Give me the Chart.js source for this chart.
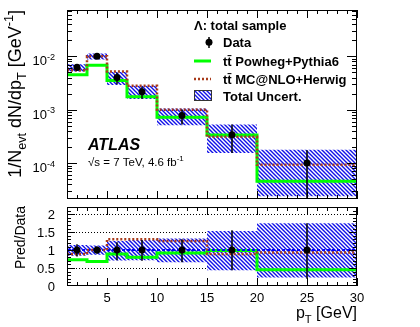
<!DOCTYPE html>
<html>
<head>
<meta charset="utf-8">
<script src="https://cdn.jsdelivr.net/npm/chart.js@4.4.1/dist/chart.umd.min.js"></script>
<style>
  html, body { margin: 0; padding: 0; background: #fff; }
  #wrap { position: relative; width: 420px; height: 327px; overflow: hidden; }
  #top { position: absolute; left: 0; top: 0; }
  #ratio { position: absolute; left: 0; top: 203px; }
</style>
</head>
<body>
<div id="wrap">
  <canvas id="top" width="420" height="203"></canvas>
  <canvas id="ratio" width="420" height="124"></canvas>
</div>
<script>
"use strict";

// bins in pT [GeV]
var binEdges = [1, 3, 5, 7, 10, 15, 20, 30];
var binCenters = [2, 4, 6, 8.5, 12.5, 17.5, 25];

// upper panel: 1/N dN/dpT
var dataVals = [6.2e-3, 1.0e-2, 4.0e-3, 2.17e-3, 7.8e-4, 3.4e-4, 1.0e-4];
var dataErrLo = [5.3e-3, 9.0e-3, 3.0e-3, 1.6e-3, 5.3e-4, 1.55e-4, 2.2e-5];
var dataErrHi = [7.1e-3, 1.12e-2, 4.9e-3, 2.7e-3, 1.0e-3, 5.3e-4, 1.75e-4];
var powhegVals = [4.5e-3, 6.8e-3, 3.5e-3, 1.75e-3, 7.2e-4, 3.35e-4, 4.6e-5];
var mcatnloVals = [5.5e-3, 1.0e-2, 5.2e-3, 2.8e-3, 1.0e-3, 3.1e-4, 9.3e-5];
var uncLo = [5.2e-3, 8.7e-3, 2.9e-3, 1.58e-3, 5.1e-4, 1.55e-4, 2.4e-5];
var uncHi = [7.1e-3, 1.13e-2, 5.1e-3, 2.8e-3, 1.05e-3, 5.3e-4, 1.78e-4];

// lower panel: Pred/Data
var dataRatio = [1, 1, 1, 1, 1, 1, 1];
var dataRatioErrLo = [0.82, 0.9, 0.72, 0.7, 0.66, 0.44, 0.2];
var dataRatioErrHi = [1.16, 1.1, 1.22, 1.28, 1.3, 1.55, 1.75];
var powhegRatio = [0.73, 0.68, 0.89, 0.8, 0.92, 0.99, 0.45];
var mcatnloRatio = [0.89, 1.0, 1.3, 1.3, 1.25, 0.89, 0.93];
var uncRatioLo = [0.84, 0.87, 0.71, 0.72, 0.66, 0.44, 0.24];
var uncRatioHi = [1.14, 1.13, 1.25, 1.28, 1.32, 1.53, 1.75];

// tick labels
var xTickValues = [5, 10, 15, 20, 25, 30];
var xTickLabels = ['5', '10', '15', '20', '25', '30'];
var logTickValues = [1e-2, 1e-3, 1e-4];
var logTickExps = ['-2', '-3', '-4'];
var ratioTickValues = [0, 0.5, 1, 1.5, 2];
var ratioTickLabels = ['0', '0.5', '1', '1.5', '2'];

var FONT = '"Liberation Sans", Arial, Helvetica, sans-serif';
var GREEN = '#00ff00';
var RED = '#a83a1a';
var BLUE = '#0000ff';

function stepPoints(values) {
  var pts = values.map(function(v, i) { return { x: binEdges[i], y: v }; });
  pts.push({ x: binEdges[binEdges.length - 1], y: values[values.length - 1] });
  return pts;
}

function centerPoints(values) {
  return values.map(function(v, i) { return { x: binCenters[i], y: v }; });
}

function makeHatch(ctx) {
  var c = document.createElement('canvas');
  c.width = 4; c.height = 4;
  var g = c.getContext('2d');
  g.fillStyle = '#ffffff';
  g.fillRect(0, 0, 4, 4);
  g.strokeStyle = '#1010e8';
  g.lineWidth = 1.4;
  g.beginPath();
  g.moveTo(0, 0); g.lineTo(4, 4);
  g.moveTo(-1, 3); g.lineTo(1, 5);
  g.moveTo(3, -1); g.lineTo(5, 1);
  g.stroke();
  return ctx.createPattern(c, 'repeat');
}

function fontStr(size, weight) {
  return (weight || 'normal') + ' ' + size + 'px ' + FONT;
}

// parts: [{t, sub, sup}]
function richWidth(ctx, parts, size, weight) {
  var w = 0;
  parts.forEach(function(p) {
    ctx.font = fontStr(p.sub || p.sup ? size * 0.7 : size, weight);
    w += ctx.measureText(p.t).width;
  });
  return w;
}

function drawRich(ctx, parts, x, y, size, align, weight) {
  var w = richWidth(ctx, parts, size, weight);
  var cx = align === 'right' ? x - w : (align === 'center' ? x - w / 2 : x);
  ctx.textAlign = 'left';
  ctx.textBaseline = 'alphabetic';
  parts.forEach(function(p) {
    var s = p.sub || p.sup ? size * 0.7 : size;
    var dy = p.sub ? size * 0.3 : (p.sup ? -size * 0.42 : 0);
    ctx.font = fontStr(s, weight);
    ctx.fillText(p.t, cx, y + dy);
    cx += ctx.measureText(p.t).width;
  });
}

var hepAxes = {
  id: 'hepAxes',
  beforeDatasetsDraw: function(chart, args, o) {
    if (!o.gridY) return;
    var ctx = chart.ctx, a = chart.chartArea, ys = chart.scales.y;
    ctx.save();
    ctx.strokeStyle = '#000';
    ctx.lineWidth = 1;
    ctx.setLineDash([1, 2]);
    o.gridY.forEach(function(v) {
      var py = Math.round(ys.getPixelForValue(v)) + 0.5;
      ctx.beginPath();
      ctx.moveTo(a.left, py);
      ctx.lineTo(a.right, py);
      ctx.stroke();
    });
    ctx.restore();
  },
  afterDraw: function(chart, args, o) {
    var ctx = chart.ctx, a = chart.chartArea, xs = chart.scales.x, ys = chart.scales.y;
    ctx.save();
    ctx.strokeStyle = '#000';
    ctx.lineWidth = 1;
    ctx.beginPath();
    function seg(x1, y1, x2, y2) { ctx.moveTo(x1, y1); ctx.lineTo(x2, y2); }
    function xt(v, len) {
      var px = Math.round(xs.getPixelForValue(v)) + 0.5;
      seg(px, a.bottom, px, a.bottom - len);
      seg(px, a.top, px, a.top + len);
    }
    function yt(v, len) {
      var py = Math.round(ys.getPixelForValue(v)) + 0.5;
      if (py < a.top || py > a.bottom) return;
      seg(a.left, py, a.left + len, py);
      seg(a.right, py, a.right - len, py);
    }
    o.xMinor.forEach(function(v) { xt(v, o.xMinorLen); });
    o.xMajor.forEach(function(v) { xt(v, o.xMajorLen); });
    o.yMinor.forEach(function(v) { yt(v, o.yMinorLen); });
    o.yMajor.forEach(function(v) { yt(v, o.yMajorLen); });
    ctx.stroke();
    ctx.strokeRect(a.left + 0.5, a.top + 0.5, a.right - a.left - 1, a.bottom - a.top - 1);

    ctx.fillStyle = '#000';
    if (o.logLabels) {
      o.yMajor.forEach(function(v, i) {
        var py = ys.getPixelForValue(v);
        drawRich(ctx, [{ t: '10' }, { t: logTickExps[i], sup: true }], 55, py + 9, 13, 'right');
      });
    }
    if (o.ratioLabels) {
      ratioTickValues.forEach(function(v, i) {
        var py = ys.getPixelForValue(v);
        drawRich(ctx, [{ t: ratioTickLabels[i] }], 55, py + 4.7, 13, 'right');
      });
    }
    if (o.xLabels) {
      xTickValues.forEach(function(v, i) {
        var px = xs.getPixelForValue(v);
        drawRich(ctx, [{ t: xTickLabels[i] }], px, a.bottom + 16, 13, 'center');
      });
    }
    ctx.restore();
  }
};

var errBars = {
  id: 'errBars',
  afterDatasetsDraw: function(chart, args, o) {
    var ctx = chart.ctx, a = chart.chartArea, xs = chart.scales.x, ys = chart.scales.y;
    ctx.save();
    ctx.beginPath();
    ctx.rect(a.left, a.top, a.right - a.left, a.bottom - a.top);
    ctx.clip();
    ctx.strokeStyle = '#000';
    ctx.lineWidth = 1.5;
    ctx.beginPath();
    binCenters.forEach(function(c, i) {
      var px = xs.getPixelForValue(c);
      ctx.moveTo(px, ys.getPixelForValue(o.lo[i]));
      ctx.lineTo(px, ys.getPixelForValue(o.hi[i]));
    });
    ctx.stroke();
    ctx.restore();
  }
};

var topText = {
  id: 'topText',
  afterDraw: function(chart) {
    var ctx = chart.ctx;
    ctx.save();
    ctx.fillStyle = '#000';
    // legend
    drawRich(ctx, [{ t: '\u039b: total sample' }], 194, 29.5, 13, 'left', 'bold');
    ctx.beginPath();
    ctx.arc(209, 42.3, 3.5, 0, Math.PI * 2);
    ctx.fill();
    ctx.lineWidth = 1.5;
    ctx.strokeStyle = '#000';
    ctx.beginPath(); ctx.moveTo(209, 37); ctx.lineTo(209, 48); ctx.stroke();
    drawRich(ctx, [{ t: 'Data' }], 223, 46.5, 13, 'left', 'bold');

    ctx.strokeStyle = GREEN; ctx.lineWidth = 3;
    ctx.beginPath(); ctx.moveTo(194, 61); ctx.lineTo(211, 61); ctx.stroke();
    drawRich(ctx, [{ t: 'tt\u0304 Powheg+Pythia6' }], 223, 65.5, 13, 'left', 'bold');

    ctx.strokeStyle = RED; ctx.lineWidth = 2.5; ctx.setLineDash([2, 2]);
    ctx.beginPath(); ctx.moveTo(194, 79); ctx.lineTo(211, 79); ctx.stroke();
    ctx.setLineDash([]);
    drawRich(ctx, [{ t: 'tt\u0304 MC@NLO+Herwig' }], 223, 83.5, 13, 'left', 'bold');

    ctx.fillStyle = makeHatch(ctx);
    ctx.fillRect(194, 90, 18, 11);
    ctx.strokeStyle = '#333'; ctx.lineWidth = 1;
    ctx.strokeRect(194.5, 90.5, 17, 10);
    ctx.fillStyle = '#000';
    drawRich(ctx, [{ t: 'Total Uncert.' }], 223, 100.5, 13, 'left', 'bold');

    // experiment labels
    drawRich(ctx, [{ t: 'ATLAS' }], 88, 150, 16, 'left', 'italic bold');
    drawRich(ctx, [{ t: '\u221as = 7 TeV, 4.6 fb' }, { t: '-1', sup: true }], 88, 165.5, 11.5, 'left');

    // y title
    ctx.translate(21, 10);
    ctx.rotate(-Math.PI / 2);
    drawRich(ctx, [
      { t: '1/N' }, { t: 'evt', sub: true }, { t: ' dN/dp' }, { t: 'T', sub: true },
      { t: ' [GeV' }, { t: '-1', sup: true }, { t: ']' }
    ], 0, 0, 18, 'right');
    ctx.restore();
  }
};

var ratioText = {
  id: 'ratioText',
  afterDraw: function(chart) {
    var ctx = chart.ctx;
    ctx.save();
    ctx.fillStyle = '#000';
    drawRich(ctx, [{ t: 'p' }, { t: 'T', sub: true }, { t: ' [GeV]' }], 357, 115, 16, 'right');
    ctx.translate(25, 3);
    ctx.rotate(-Math.PI / 2);
    drawRich(ctx, [{ t: 'Pred/Data' }], 0, 0, 14, 'right');
    ctx.restore();
  }
};

var xMinorTicks = [];
for (var xv = 1; xv <= 30; xv++) xMinorTicks.push(xv);
var logMinorTicks = [];
for (var d = -5; d <= -2; d++) {
  for (var m = 2; m <= 9; m++) logMinorTicks.push(m * Math.pow(10, d));
}
var ratioMinorTicks = [];
for (var r = 0; r <= 22; r++) ratioMinorTicks.push(r / 10);

var topCanvas = document.getElementById('top');
var ratioCanvas = document.getElementById('ratio');
var topHatch = makeHatch(topCanvas.getContext('2d'));
var ratioHatch = makeHatch(ratioCanvas.getContext('2d'));

// stepped: true -> each bin value runs horizontally from its low edge to its high edge
function stepSet(values, color, width, dash) {
  return {
    data: stepPoints(values),
    stepped: true,
    borderColor: color,
    borderWidth: width,
    borderDash: dash || [],
    pointRadius: 0,
    fill: false
  };
}

function bandSets(lo, hi, pattern) {
  return [
    {
      data: stepPoints(hi), stepped: true, borderWidth: 0, borderColor: 'rgba(0,0,0,0)',
      pointRadius: 0, fill: '+1', backgroundColor: pattern, order: 5
    },
    {
      data: stepPoints(lo), stepped: true, borderWidth: 0, borderColor: 'rgba(0,0,0,0)',
      pointRadius: 0, fill: false, order: 5
    }
  ];
}

function pointSet(values) {
  return {
    data: centerPoints(values),
    showLine: false,
    pointRadius: 3.5,
    pointBackgroundColor: '#000',
    pointBorderColor: '#000',
    pointBorderWidth: 0,
    order: 0
  };
}

var common = {
  responsive: false,
  animation: false,
  events: []
};

var topSets = bandSets(uncLo, uncHi, topHatch);
var pw = stepSet(powhegVals, GREEN, 3); pw.order = 3;
var mc = stepSet(mcatnloVals, RED, 2.5, [2, 2]); mc.order = 2;
topSets.push(pw, mc, pointSet(dataVals));

new Chart(topCanvas, {
  type: 'line',
  data: { datasets: topSets },
  options: Object.assign({}, common, {
    layout: { padding: { left: 67, right: 63, top: 10, bottom: 3 } },
    scales: {
      x: { type: 'linear', display: false, min: 1, max: 30 },
      y: { type: 'logarithmic', display: false, min: 2.13e-5, max: 7.34e-2 }
    },
    plugins: {
      legend: { display: false },
      tooltip: { enabled: false },
      hepAxes: {
        xMinor: xMinorTicks, xMajor: xTickValues, xMinorLen: 4, xMajorLen: 8,
        yMinor: logMinorTicks, yMajor: logTickValues, yMinorLen: 5, yMajorLen: 10,
        logLabels: true
      },
      errBars: { lo: dataErrLo, hi: dataErrHi }
    }
  }),
  plugins: [hepAxes, errBars, topText]
});

var ratioSets = bandSets(uncRatioLo, uncRatioHi, ratioHatch);
var pwR = stepSet(powhegRatio, GREEN, 3); pwR.order = 3;
var refR = stepSet(dataRatio, BLUE, 2, [3, 2]); refR.order = 2;
var mcR = stepSet(mcatnloRatio, RED, 2.5, [2, 2]); mcR.order = 1;
ratioSets.push(pwR, refR, mcR, pointSet(dataRatio));

new Chart(ratioCanvas, {
  type: 'line',
  data: { datasets: ratioSets },
  options: Object.assign({}, common, {
    layout: { padding: { left: 67, right: 63, top: 3, bottom: 41 } },
    scales: {
      x: { type: 'linear', display: false, min: 1, max: 30 },
      y: { type: 'linear', display: false, min: 0, max: 2.2 }
    },
    plugins: {
      legend: { display: false },
      tooltip: { enabled: false },
      hepAxes: {
        gridY: [0.5, 1.5, 2],
        xMinor: xMinorTicks, xMajor: xTickValues, xMinorLen: 4, xMajorLen: 8,
        yMinor: ratioMinorTicks, yMajor: ratioTickValues, yMinorLen: 4, yMajorLen: 8,
        ratioLabels: true, xLabels: true
      },
      errBars: { lo: dataRatioErrLo, hi: dataRatioErrHi }
    }
  }),
  plugins: [hepAxes, errBars, ratioText]
});
</script>
</body>
</html>
